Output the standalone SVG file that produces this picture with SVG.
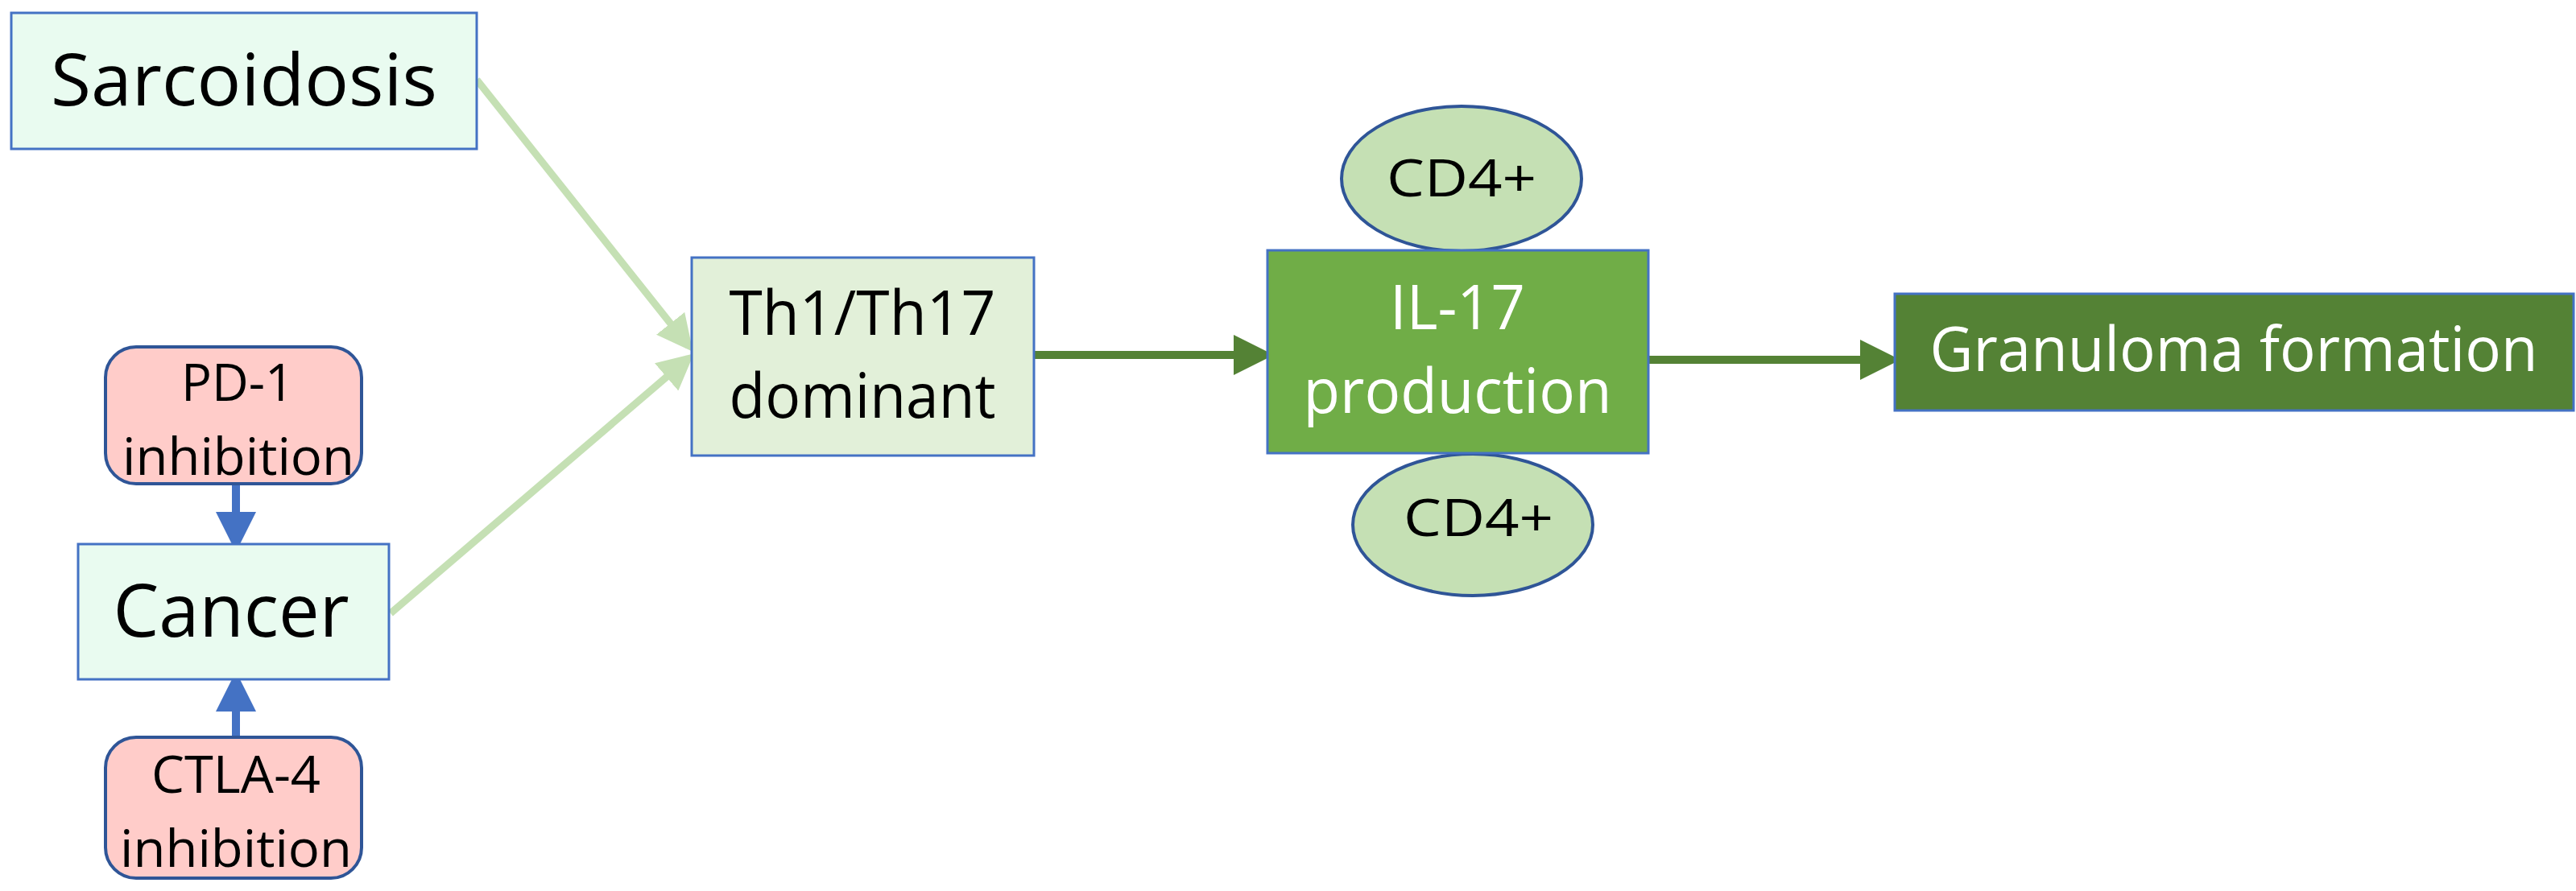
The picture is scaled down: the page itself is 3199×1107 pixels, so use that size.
<svg xmlns="http://www.w3.org/2000/svg" width="3199" height="1107" viewBox="0 0 3199 1107">
<style>
text{font-family:"Open Sans","Liberation Sans",sans-serif;text-anchor:middle;fill:#000}
.w{fill:#fff}
.lg{stroke:#c5e0b4;stroke-width:9;fill:none}
.dg{stroke:#548235;stroke-width:10;fill:none}
.bl{stroke:#4472c4;stroke-width:10;fill:none}
</style>
<defs>
<marker id="ml" markerWidth="5" markerHeight="5" refX="4" refY="2.5" orient="auto"><path d="M0,0L5,2.5L0,5z" fill="#c5e0b4"/></marker>
<marker id="md" markerWidth="5" markerHeight="5" refX="4" refY="2.5" orient="auto"><path d="M0,0L5,2.5L0,5z" fill="#548235"/></marker>
<marker id="mb" markerWidth="5" markerHeight="5" refX="4" refY="2.5" orient="auto"><path d="M0,0L5,2.5L0,5z" fill="#4472c4"/></marker>
</defs>
<rect width="3199" height="1107" fill="#fff"/>
<g id="connectors">
<line class="lg" x1="592" y1="99" x2="855" y2="430" marker-end="url(#ml)"/>
<line class="lg" x1="485" y1="762" x2="855" y2="445" marker-end="url(#ml)"/>
<line class="dg" x1="1284" y1="441" x2="1572" y2="441" marker-end="url(#md)"/>
<line class="dg" x1="2047" y1="447" x2="2350" y2="447" marker-end="url(#md)"/>
<line class="bl" x1="293" y1="601" x2="293" y2="676" marker-end="url(#mb)"/>
<line class="bl" x1="293" y1="916" x2="293" y2="844" marker-end="url(#mb)"/>
</g>
<g id="sarcoidosis"><rect x="14" y="16" width="578" height="169" fill="#e9fbf0" stroke="#4472c4" stroke-width="3"/><text x="303" y="131" font-size="90" textLength="480" lengthAdjust="spacingAndGlyphs">Sarcoidosis</text></g>
<g id="th1"><rect x="859" y="320" width="425" height="246" fill="#e2f0d9" stroke="#4472c4" stroke-width="3"/><text x="1071" y="416" font-size="76" textLength="331" lengthAdjust="spacingAndGlyphs">Th1/Th17</text><text x="1071" y="519" font-size="76" textLength="331" lengthAdjust="spacingAndGlyphs">dominant</text></g>
<g id="pd1"><rect x="131" y="431" width="318" height="170" rx="38" fill="#ffccc9" stroke="#2f5597" stroke-width="4"/><text x="295" y="498" font-size="64" textLength="140" lengthAdjust="spacingAndGlyphs">PD-1</text><text x="296" y="590" font-size="64" textLength="288" lengthAdjust="spacingAndGlyphs">inhibition</text></g>
<g id="cancer"><rect x="97" y="676" width="386" height="168" fill="#e9fbf0" stroke="#4472c4" stroke-width="3"/><text x="287" y="791" font-size="92" textLength="293" lengthAdjust="spacingAndGlyphs">Cancer</text></g>
<g id="ctla4"><rect x="131" y="916" width="318" height="175" rx="38" fill="#ffccc9" stroke="#2f5597" stroke-width="4"/><text x="293" y="985" font-size="64" textLength="210" lengthAdjust="spacingAndGlyphs">CTLA-4</text><text x="293" y="1077" font-size="64" textLength="288" lengthAdjust="spacingAndGlyphs">inhibition</text></g>
<g id="cd4top"><ellipse cx="1815" cy="222" rx="149" ry="90" fill="#c5e0b4" stroke="#2f5597" stroke-width="4"/><text x="1815" y="244" font-size="64" textLength="186" lengthAdjust="spacingAndGlyphs">CD4+</text></g>
<g id="cd4bot"><ellipse cx="1829" cy="652" rx="149" ry="88" fill="#c5e0b4" stroke="#2f5597" stroke-width="4"/><text x="1836" y="666" font-size="64" textLength="186" lengthAdjust="spacingAndGlyphs">CD4+</text></g>
<g id="il17"><rect x="1574" y="311" width="473" height="252" fill="#70ad47" stroke="#4472c4" stroke-width="3"/><text class="w" x="1810" y="409" font-size="76" textLength="168" lengthAdjust="spacingAndGlyphs">IL-17</text><text class="w" x="1810" y="513" font-size="76" textLength="383" lengthAdjust="spacingAndGlyphs">production</text></g>
<g id="granuloma"><rect x="2353" y="365" width="843" height="145" fill="#548235" stroke="#4472c4" stroke-width="3"/><text class="w" x="2774" y="461" font-size="76" textLength="755" lengthAdjust="spacingAndGlyphs">Granuloma formation</text></g>
</svg>
